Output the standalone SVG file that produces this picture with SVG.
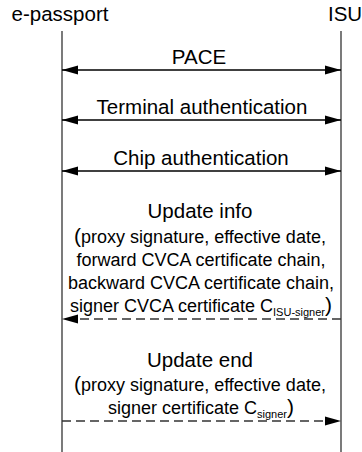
<svg xmlns="http://www.w3.org/2000/svg" width="362" height="452" viewBox="0 0 362 452">
<style>
text{font-family:"Liberation Sans",Arial,sans-serif;font-size:18px;fill:#000}
.c{text-anchor:middle}
.t{font-size:20.5px}
.sub{font-size:11px}
.p{font-size:21px}
.life{stroke:#333;stroke-width:1.3}
.msg{stroke:#000;stroke-width:1.3;fill:none}
.dash{stroke:#333;stroke-width:1.4;stroke-dasharray:9 5;fill:none}
</style>
<defs>
<marker id="ah" markerWidth="16" markerHeight="10" refX="16" refY="5" orient="auto-start-reverse" markerUnits="userSpaceOnUse">
<path d="M0,0.5 L16,5 L0,9.5 Z" fill="#000"/>
</marker>
</defs>
<rect width="362" height="452" fill="#fff"/>
<g id="epassport">
<text x="60" y="21" class="c t">e-passport</text>
<line class="life" x1="62" y1="31" x2="62" y2="452"/>
</g>
<g id="isu">
<text x="328" y="21" class="t">ISU</text>
<line class="life" x1="341" y1="31" x2="341" y2="452"/>
</g>
<g id="connectors">
<line class="msg" x1="62" y1="70" x2="341" y2="70" marker-start="url(#ah)" marker-end="url(#ah)"/>
<line class="msg" x1="62" y1="120" x2="341" y2="120" marker-start="url(#ah)" marker-end="url(#ah)"/>
<line class="msg" x1="62" y1="171" x2="341" y2="171" marker-start="url(#ah)" marker-end="url(#ah)"/>
<line class="dash" x1="341" y1="319" x2="62" y2="319" marker-end="url(#ah)"/>
<line class="dash" x1="62" y1="421" x2="341" y2="421" marker-end="url(#ah)"/>
</g>
<g id="labels">
<text x="199" y="64" class="c t">PACE</text>
<text x="202" y="114" class="c t">Terminal authentication</text>
<text x="201" y="165" class="c t">Chip authentication</text>
<text x="200" y="218" class="c t">Update info</text>
<text x="200" y="243" class="c"><tspan class="p">(</tspan>proxy signature, effective date,</text>
<text x="201" y="266" class="c">forward CVCA certificate chain,</text>
<text x="201" y="289" class="c">backward CVCA certificate chain,</text>
<text x="201" y="312" class="c">signer CVCA certificate C<tspan class="sub" dy="4">ISU-signer</tspan><tspan class="p" dy="-4">)</tspan></text>
<text x="200" y="367" class="c t">Update end</text>
<text x="200" y="391" class="c"><tspan class="p">(</tspan>proxy signature, effective date,</text>
<text x="201" y="414" class="c">signer certificate C<tspan class="sub" dy="4">signer</tspan><tspan class="p" dy="-4">)</tspan></text>
</g>
</svg>
